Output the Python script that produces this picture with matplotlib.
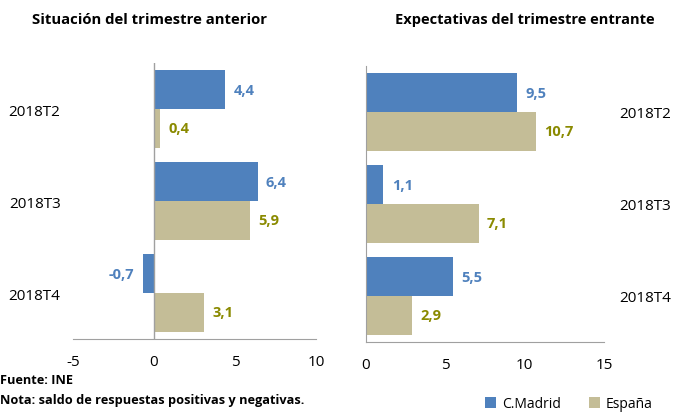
import numpy as np
import matplotlib.pyplot as plt

plt.rcParams['font.family'] = ['Open Sans', 'DejaVu Sans']
plt.rcParams['axes.unicode_minus'] = False

periodos = ['2018T2', '2018T3', '2018T4']
sit_madrid = [4.4, 6.4, -0.7]
sit_espana = [0.4, 5.9, 3.1]
exp_madrid = [9.5, 1.1, 5.5]
exp_espana = [10.7, 7.1, 2.9]

azul = '#4F81BD'
beige = '#C4BD97'
azul_txt = '#4F81BD'
oliva_txt = '#8A8A00'
gris = '#A0A0A0'

fig = plt.figure(figsize=(6.73, 4.14), dpi=100)
ax1 = fig.add_axes([0.1085, 0.1787, 0.361, 0.6667])
ax2 = fig.add_axes([0.5438, 0.1715, 0.3536, 0.6667])

h = 0.42
y = np.arange(len(periodos))


def etiquetas(ax, barras, vals, color):
    for b, v in zip(barras, vals):
        ax.annotate(f'{v:.1f}'.replace('.', ','), (v, b.get_y() + b.get_height() / 2),
                    xytext=(6 if v >= 0 else -6, 0), textcoords='offset points',
                    ha='left' if v >= 0 else 'right', va='center',
                    fontsize=10.5, fontweight='bold', color=color)


for ax, m, e, lim, ticks in [(ax1, sit_madrid, sit_espana, (-5, 10), [-5, 0, 5, 10]),
                             (ax2, exp_madrid, exp_espana, (0, 15), [0, 5, 10, 15])]:
    bm = ax.barh(y - h / 2, m, height=h, color=azul, label='C.Madrid')
    be = ax.barh(y + h / 2, e, height=h, color=beige, label='España')
    etiquetas(ax, bm, m, azul_txt)
    etiquetas(ax, be, e, oliva_txt)
    ax.set_xlim(*lim)
    ax.set_xticks(ticks)
    ax.set_ylim(2.5, -0.5)
    ax.set_yticks(y)
    ax.set_yticklabels(periodos)
    ax.tick_params(length=0, labelsize=11, colors='black', pad=8)
    ax.tick_params(axis='x', pad=11)
    for s in ['top', 'right']:
        ax.spines[s].set_visible(False)
    ax.spines['bottom'].set_color(gris)
    ax.spines['left'].set_color(gris)

ax1.spines['left'].set_visible(False)
ax1.axvline(0, color=gris, lw=1)
ax1.tick_params(axis='y', pad=9)
ax2.yaxis.tick_right()
ax2.tick_params(axis='y', pad=11)

fig.text(0.222, 0.952, 'Situación del trimestre anterior', ha='center', va='center',
         fontsize=10.7, fontweight='bold')
fig.text(0.78, 0.952, 'Expectativas del trimestre entrante', ha='center', va='center',
         fontsize=10.5, fontweight='bold')

fig.text(0.0, 0.082, 'Fuente: INE', fontsize=9.2, fontweight='bold', va='center')
fig.text(0.0, 0.033, 'Nota: saldo de respuestas positivas y negativas.', fontsize=9.2,
         fontweight='bold', va='center')
fig.text(0.0, -0.014, 'Texto de situación y expectativas empresariales', fontsize=9.2,
         fontweight='bold', va='center')

handles, labels = ax2.get_legend_handles_labels()
fig.legend(handles, labels, loc='center', bbox_to_anchor=(0.845, 0.022), ncol=2,
           frameon=False, fontsize=10, handlelength=0.8, handleheight=0.8,
           columnspacing=2.0, handletextpad=0.4)

fig.savefig('out.png', dpi=100)
